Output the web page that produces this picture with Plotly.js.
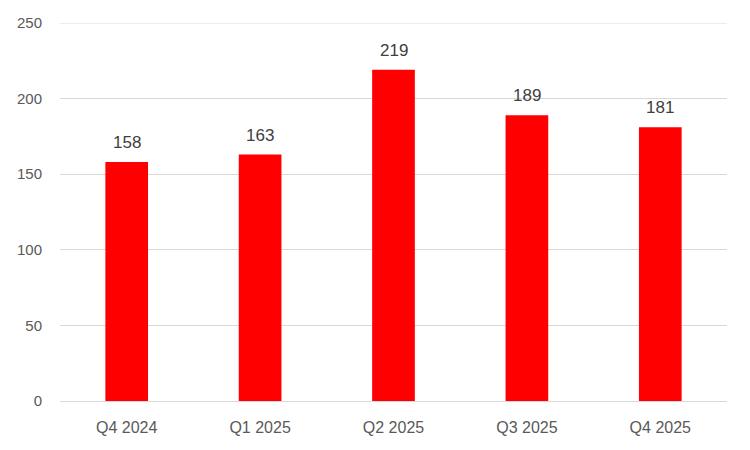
<!DOCTYPE html>
<html>
<head>
<meta charset="utf-8">
<script src="https://cdn.plot.ly/plotly-3.0.1.min.js"></script>
<style>html,body{margin:0;padding:0;background:#fff;}#chart{width:750px;height:450px;}</style>
</head>
<body>
<div id="chart"></div>
<script>
var categories = ["Q4 2024", "Q1 2025", "Q2 2025", "Q3 2025", "Q4 2025"];
var values = [158, 163, 219, 189, 181];
var yTicks = [0, 50, 100, 150, 200, 250];

var FONT = "Liberation Sans, Arial, sans-serif";

var trace = {
  type: "bar",
  x: categories,
  y: values,
  marker: {color: "#ff0000"},
  hoverinfo: "none"
};

var annotations = categories.map(function (c, i) {
  return {
    x: c, y: values[i], xref: "x", yref: "y",
    text: String(values[i]),
    showarrow: false,
    yanchor: "bottom",
    yshift: 8,
    font: {family: FONT, size: 17, color: "#404040"}
  };
});

var layout = {
  width: 750, height: 450,
  margin: {l: 60, r: 23, t: 23, b: 49},
  paper_bgcolor: "#ffffff",
  plot_bgcolor: "#ffffff",
  bargap: 0.68,
  showlegend: false,
  font: {family: FONT, size: 14, color: "#595959"},
  annotations: annotations,
  shapes: [{
    type: "line", xref: "paper", yref: "y",
    x0: 0, x1: 1, y0: 250, y1: 250,
    line: {color: "#d9d9d9", width: 1},
    layer: "below"
  }],
  xaxis: {
    type: "category",
    showgrid: false,
    showline: true,
    linecolor: "#d9d9d9",
    linewidth: 1,
    ticks: "",
    ticklabelstandoff: 12,
    tickfont: {size: 16, color: "#595959"}
  },
  yaxis: {
    range: [0, 250],
    tickvals: yTicks,
    showgrid: true,
    gridcolor: "#d9d9d9",
    gridwidth: 1,
    zeroline: false,
    showline: false,
    ticks: "",
    ticklabelstandoff: 17,
    tickfont: {size: 15, color: "#595959"}
  }
};

Plotly.newPlot("chart", [trace], layout, {displayModeBar: false, staticPlot: true});
</script>
</body>
</html>
